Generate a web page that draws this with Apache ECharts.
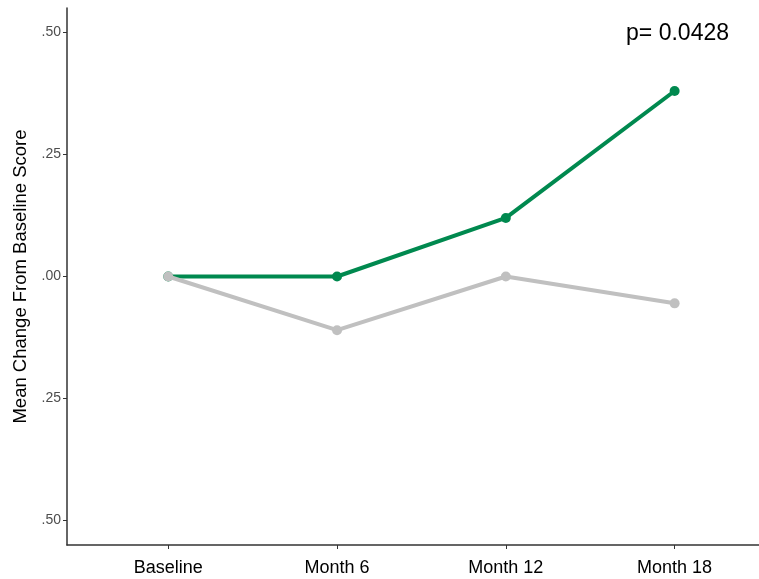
<!DOCTYPE html>
<html>
<head>
<meta charset="utf-8">
<script src="https://cdn.jsdelivr.net/npm/echarts@6/dist/echarts.min.js"></script>
<style>
  html, body { margin: 0; padding: 0; background: #fff; }
  #chart { width: 759px; height: 579px; }
</style>
</head>
<body>
<div id="chart"></div>
<script>
// Visits along the x axis
const categories = ['Baseline', 'Month 6', 'Month 12', 'Month 18'];
// Mean change from baseline, per group
const treatedValues = [0, 0, 0.12, 0.38];
const controlValues = [0, -0.11, 0, -0.055];
// Y tick positions (labels drop the sign)
const yTicks = [-0.5, -0.25, 0, 0.25, 0.5];
const pValueText = 'p= 0.0428';

const FONT = '"Liberation Sans", Arial, sans-serif';

const toPoints = vals => vals.map((v, i) => [i, v]);
const xTicks = categories.map((c, i) => i);

const chart = echarts.init(document.getElementById('chart'), null, { renderer: 'canvas' });
chart.setOption({
  animation: false,
  backgroundColor: '#ffffff',
  grid: { left: 67, right: 0, top: 8, bottom: 34 },
  xAxis: {
    type: 'value',
    min: -0.6,
    max: 3.5,
    splitLine: { show: false },
    axisLine: { show: true, onZero: false, lineStyle: { color: '#333333', width: 1.5 } },
    axisTick: { show: true, length: 4, customValues: xTicks, lineStyle: { color: '#333333', width: 1 } },
    axisLabel: {
      customValues: xTicks,
      formatter: v => categories[Math.round(v)] || '',
      color: '#000000',
      fontFamily: FONT,
      fontSize: 18,
      margin: 14
    }
  },
  yAxis: {
    type: 'value',
    min: -0.55,
    max: 0.55,
    name: 'Mean Change From Baseline Score',
    nameLocation: 'middle',
    nameGap: 36,
    nameRotate: 90,
    nameTextStyle: { color: '#000000', fontFamily: FONT, fontSize: 18.5 },
    splitLine: { show: false },
    axisLine: { show: true, onZero: false, lineStyle: { color: '#333333', width: 1.5 } },
    axisTick: { show: true, length: 4, customValues: yTicks, lineStyle: { color: '#333333', width: 1 } },
    axisLabel: {
      customValues: yTicks,
      formatter: v => Math.abs(v).toFixed(2).replace(/^0/, ''),
      color: '#4d4d4d',
      fontFamily: FONT,
      fontSize: 14,
      margin: 6
    }
  },
  series: [
    {
      name: 'Treatment',
      type: 'line',
      data: toPoints(treatedValues),
      symbol: 'circle',
      symbolSize: 10,
      lineStyle: { color: '#00894f', width: 4 },
      itemStyle: { color: '#00894f' },
      z: 2
    },
    {
      name: 'Control',
      type: 'line',
      data: toPoints(controlValues),
      symbol: 'circle',
      symbolSize: 10,
      lineStyle: { color: '#c0c0c0', width: 4 },
      itemStyle: { color: '#c0c0c0' },
      z: 3
    }
  ],
  graphic: [
    {
      type: 'text',
      right: 30,
      top: 22,
      style: { text: pValueText, fill: '#000000', font: '23px ' + FONT }
    }
  ]
});
</script>
</body>
</html>
